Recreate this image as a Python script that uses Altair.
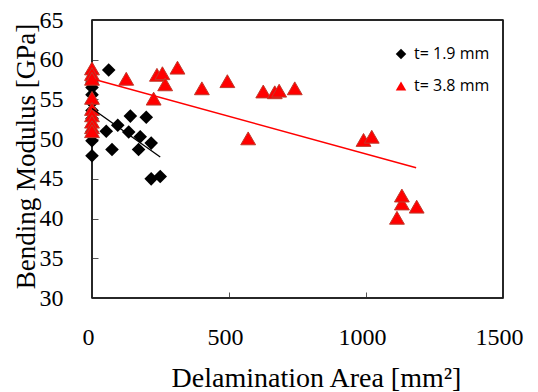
import altair as alt
import pandas as pd

# Series t = 1.9 mm (black diamonds)
thin_x = [0, 0, 0, 0, 0, 0, 0, 0, 0, 0,
          61, 140, 198, 94, 52, 134, 176, 216, 73, 170, 216, 249]
thin_y = [58.3, 57.2, 56.5, 55.6, 54.6, 53.6, 52.6, 51.0, 49.8, 47.9,
          58.7, 52.9, 52.75, 51.75, 51.0, 50.9, 50.3, 49.5, 48.7, 48.7, 45.0, 45.3]

# Series t = 3.8 mm (red triangles)
thick_x = [0, 0, 0, 0, 0, 0, 0, 0, 0,
           125, 237, 257, 267, 312, 225, 401, 494, 570, 625, 667, 683, 740,
           991, 1021, 1113, 1131, 1131, 1185]
thick_y = [58.9, 58.2, 57.6, 55.2, 53.8, 53.0, 52.2, 51.5, 51.0,
           57.6, 58.1, 58.3, 56.9, 59.0, 55.1, 56.4, 57.3, 50.1, 56.0, 55.9, 56.1, 56.4,
           49.9, 50.3, 40.1, 41.9, 42.9, 41.5]

# Linear trend lines (end points)
thin_trend_x = [0, 249]
thin_trend_y = [53.85, 47.75]
thick_trend_x = [0, 1183]
thick_trend_y = [57.6, 46.4]

series_names = ["t= 1.9 mm", "t= 3.8 mm"]
x_range = [0, 1500]
y_range = [30, 65]
x_ticks = [0, 500, 1000, 1500]
y_ticks = [30, 35, 40, 45, 50, 55, 60, 65]

pts = pd.DataFrame({
    "x": thin_x + thick_x,
    "y": thin_y + thick_y,
    "series": [series_names[0]] * len(thin_x) + [series_names[1]] * len(thick_x),
})
trend_thin = pd.DataFrame({"x": thin_trend_x, "y": thin_trend_y})
trend_thick = pd.DataFrame({"x": thick_trend_x, "y": thick_trend_y})

# plot-area border edges (the axis ranges)
vert_edges = pd.DataFrame({"x": [x_range[0], x_range[1]],
                           "y": [y_range[0], y_range[0]],
                           "y2": [y_range[1], y_range[1]]})
horiz_edges = pd.DataFrame({"y": [y_range[0], y_range[1]],
                            "x": [x_range[0], x_range[0]],
                            "x2": [x_range[1], x_range[1]]})

serif = "Liberation Serif"

xscale = alt.Scale(domain=x_range, nice=False, zero=False)
yscale = alt.Scale(domain=y_range, nice=False, zero=False)

xaxis = alt.Axis(values=x_ticks, format="d",
                 labelPadding=27, labelOffset=-4,
                 title="Delamination Area [mm²]", titleFontSize=28,
                 titleX=224, titleY=94, titleAlign="center", titleBaseline="alphabetic")
yaxis = alt.Axis(values=y_ticks, format="d",
                 labelPadding=29,
                 title="Bending Modulus [GPa]", titleFontSize=27,
                 titleAngle=270, titleX=-72, titleY=136, titleAlign="center",
                 titleBaseline="middle")

legend = alt.Legend(title=None, orient="none", legendX=301, legendY=26,
                    padding=0, rowPadding=16, symbolSize=110, labelOffset=5,
                    labelFont="Open Sans", labelFontSize=16, labelColor="black",
                    symbolStrokeWidth=0)

base = alt.Chart(pts)

color_enc = alt.Color("series:N", scale=alt.Scale(domain=series_names, range=["black", "#ff0000"]), legend=legend)
shape_enc = alt.Shape("series:N", scale=alt.Scale(domain=series_names, range=["diamond", "triangle-up"]), legend=legend)
x_enc = alt.X("x:Q", scale=xscale, axis=xaxis)
y_enc = alt.Y("y:Q", scale=yscale, axis=yaxis)

edges_v = alt.Chart(vert_edges).mark_rule(color="#1a1a1a", strokeWidth=1.5).encode(
    x=x_enc, y=y_enc, y2="y2:Q")
edges_h = alt.Chart(horiz_edges).mark_rule(color="#1a1a1a", strokeWidth=1.5).encode(
    x=x_enc, x2="x2:Q", y=y_enc)

thin_pts = base.transform_filter(alt.datum.series == series_names[0]).mark_point(
    filled=True, size=185, opacity=1
).encode(x=x_enc, y=y_enc, color=color_enc, shape=shape_enc)

thick_pts = base.transform_filter(alt.datum.series == series_names[1]).mark_point(
    filled=True, size=220, opacity=1, stroke="#c0392b", strokeWidth=1
).encode(x=x_enc, y=y_enc, color=color_enc, shape=shape_enc)

line_thin = alt.Chart(trend_thin).mark_line(color="black", strokeWidth=1.3).encode(
    x=x_enc, y=y_enc)
line_thick = alt.Chart(trend_thick).mark_line(color="#ff0000", strokeWidth=1.5).encode(
    x=x_enc, y=y_enc)

chart = alt.layer(edges_v, edges_h, thin_pts, thick_pts, line_thin, line_thick).properties(
    width=411, height=278,
    autosize=alt.AutoSizeParams(type="none"),
    padding={"left": 84, "top": 12, "right": 27, "bottom": 96},
).configure_view(
    stroke="#1a1a1a", strokeWidth=1.5
).configure_axis(
    domain=False, grid=False, ticks=True, tickSize=6, offset=-6,
    tickColor="#555555", tickWidth=1, labelOverlap=False, labelFlush=False,
    labelFont=serif, labelFontSize=24, labelColor="black",
    titleFont=serif, titleFontWeight="normal", titleColor="black",
)

chart.save("out.html", embed_options={"renderer": "svg", "actions": False})
